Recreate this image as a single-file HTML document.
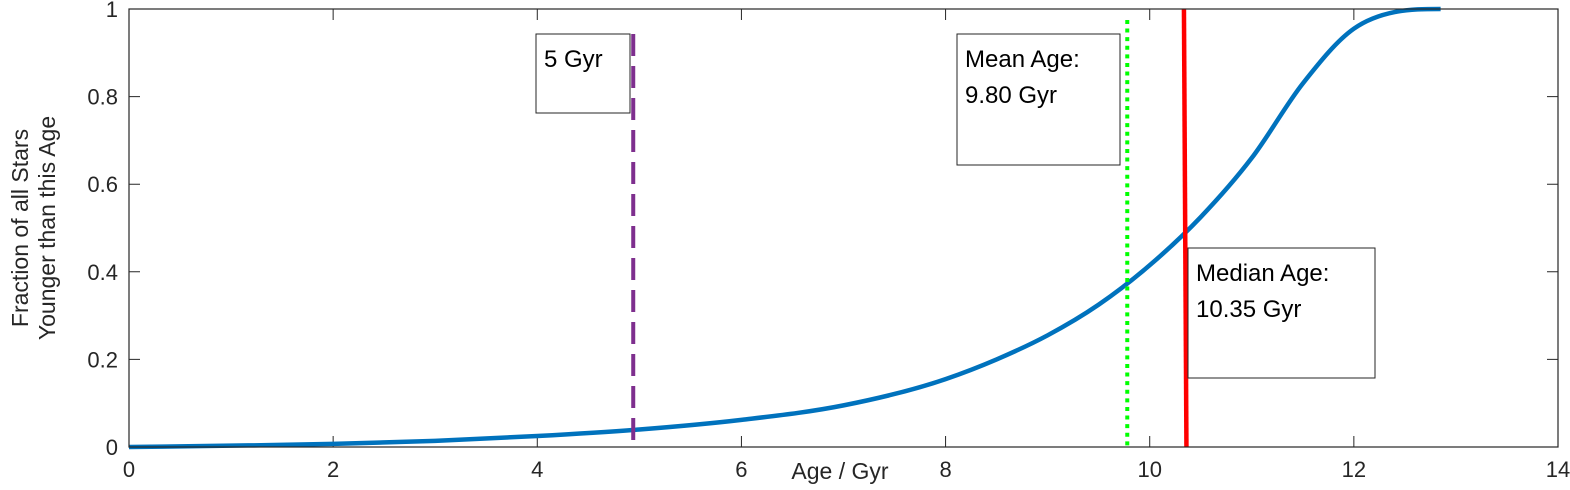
<!DOCTYPE html>
<html><head><meta charset="utf-8"><style>
body{margin:0;background:#fff;}
svg{display:block;font-family:"Liberation Sans",sans-serif;}
</style></head><body>
<svg id="chart" width="1570" height="490" viewBox="0 0 1570 490" xmlns="http://www.w3.org/2000/svg">
<rect x="0" y="0" width="1570" height="490" fill="#fff"/>
<g id="ticks"></g>
<g id="marks"></g>
<rect x="129" y="9" width="1429" height="438" fill="none" stroke="#262626" stroke-width="1.2"/>
<text x="840" y="479" font-size="23" text-anchor="middle" fill="#262626">Age / Gyr</text>
<text transform="translate(20,228) rotate(-90)" font-size="23" text-anchor="middle" fill="#262626"><tspan x="0" dy="8">Fraction of all Stars</tspan><tspan x="0" dy="27">Younger than this Age</tspan></text>
</svg>
<script>
const ages=[0,1,2,3,4,5,6,7,8,8.5,9,9.5,10,10.5,11,11.5,12,12.4,12.85];
const fractions=[0,0.003,0.007,0.014,0.025,0.04,0.062,0.095,0.155,0.2,0.255,0.325,0.415,0.525,0.66,0.83,0.955,0.993,1.0];
const xTicks=[0,2,4,6,8,10,12,14];
const yTicks=[0,0.2,0.4,0.6,0.8,1];
const yTickLabels=["0","0.2","0.4","0.6","0.8","1"];
const markerAges=[4.94,9.78,10.35];
const NS="http://www.w3.org/2000/svg";
const X=v=>129+v*(1429/14);
const Y=v=>447-v*438;
function mk(tag,attrs,parent){const e=document.createElementNS(NS,tag);for(const k in attrs)e.setAttribute(k,attrs[k]);parent.appendChild(e);return e;}
const tk=document.getElementById('ticks'),mg=document.getElementById('marks');
xTicks.forEach(t=>{
 const l=mk('path',{d:`M${X(t)},447v-11M${X(t)},9v11`,stroke:'#262626','stroke-width':1},tk);
 
 
 const s=mk('text',{x:X(t),y:477,'font-size':22,'text-anchor':'middle',fill:'#262626'},tk);
 s.textContent=t;
 
 
});
yTicks.forEach((t,i)=>{
 const l=mk('path',{d:`M129,${Y(t)}h11M1558,${Y(t)}h-11`,stroke:'#262626','stroke-width':1},tk);
 
 
 const s=mk('text',{x:118,y:Y(t)+8,'font-size':22,'text-anchor':'end',fill:'#262626'},tk);
 s.textContent=yTickLabels[i];
 
 
});
const n=ages.length,dl=[],m=[];
for(let i=0;i<n-1;i++)dl.push((fractions[i+1]-fractions[i])/(ages[i+1]-ages[i]));
m[0]=dl[0];m[n-1]=0;
for(let i=1;i<n-1;i++){
 const h0=ages[i]-ages[i-1],h1=ages[i+1]-ages[i];
 m[i]=(dl[i-1]*dl[i]<=0)?0:(dl[i-1]*h1+dl[i]*h0)/(h0+h1);
}
for(let i=0;i<n-1;i++){if(dl[i]===0){m[i]=m[i+1]=0;continue;}const a=m[i]/dl[i],b=m[i+1]/dl[i],s=a*a+b*b;if(s>9){const t=3/Math.sqrt(s);m[i]=t*a*dl[i];m[i+1]=t*b*dl[i];}}
let d=`M${X(ages[0])},${Y(fractions[0])}`;
for(let i=0;i<n-1;i++){
 const h=ages[i+1]-ages[i];
 d+=`C${X(ages[i]+h/3)},${Y(fractions[i]+m[i]*h/3)} ${X(ages[i+1]-h/3)},${Y(fractions[i+1]-m[i+1]*h/3)} ${X(ages[i+1])},${Y(fractions[i+1])}`;
}
const c=mk('path',{d:d,fill:'none',stroke:'#0072BD','stroke-width':4.5},mg);


const l5=mk('line',{x1:X(markerAges[0]),x2:X(markerAges[0]),y1:Y(0.943),y2:447,stroke:'#7E2F8E','stroke-width':4,'stroke-dasharray':'22 10'},mg);


const lm=mk('line',{x1:X(markerAges[1]),x2:X(markerAges[1]),y1:Y(0.975),y2:446,stroke:'#00FF00','stroke-width':4,'stroke-dasharray':'4 4.6'},mg);


const lmed=mk('line',{x1:X(markerAges[2])-1.5,x2:X(markerAges[2])+1,y1:9,y2:447,stroke:'#FF0000','stroke-width':4.5},mg);


function box(name,x,y,w,h,lines){
 const g=mk('g',{},mg);
 
 
 mk('rect',{x:x,y:y,width:w,height:h,fill:'#fff',stroke:'#262626','stroke-width':1},g);
 lines.forEach((t,i)=>{const s=mk('text',{x:x+8,y:y+33+i*36,'font-size':24,fill:'#000'},g);s.textContent=t;});
}
box('five-gyr-label',536,34,94,79,['5 Gyr']);
box('mean-age-label',957,34,163,131,['Mean Age:','9.80 Gyr']);
box('median-age-label',1188,248,187,130,['Median Age:','10.35 Gyr']);
</script>
</body></html>
